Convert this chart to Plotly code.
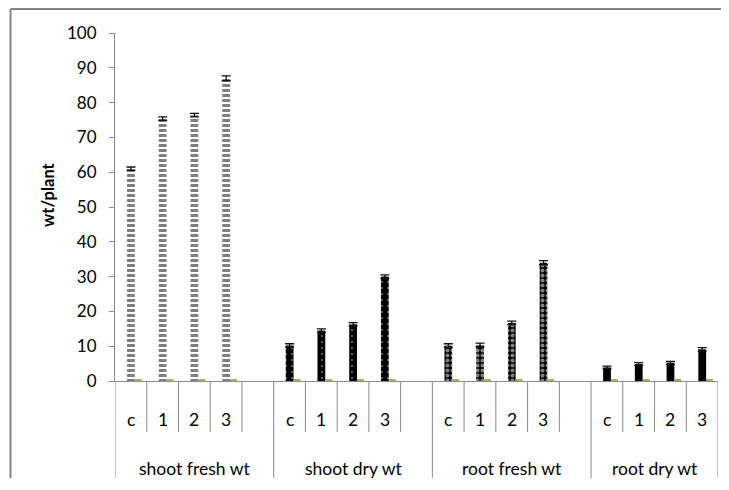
import plotly.graph_objects as go

# ---------------- data ----------------
groups = ["shoot fresh wt", "shoot dry wt", "root fresh wt", "root dry wt"]
levels = ["c", "1", "2", "3"]
# each group except the last has an empty trailing slot in the original sheet
has_blank = [True, True, True, False]

shoot_fresh = [61.0, 75.4, 76.4, 87.0]
shoot_dry = [10.2, 14.5, 16.3, 30.0]
root_fresh = [10.2, 10.4, 16.7, 34.0]
root_dry = [3.9, 4.9, 5.2, 9.1]
main_by_group = [shoot_fresh, shoot_dry, root_fresh, root_dry]

shoot_fresh_err = [0.5, 0.5, 0.5, 0.7]
shoot_dry_err = [0.5, 0.5, 0.5, 0.5]
root_fresh_err = [0.5, 0.5, 0.5, 0.6]
root_dry_err = [0.4, 0.4, 0.4, 0.5]
err_by_group = [shoot_fresh_err, shoot_dry_err, root_fresh_err, root_dry_err]

series3_by_group = [[0.3, 0.3, 0.3, 0.3], [0.3, 0.3, 0.3, 0.3],
                    [0.3, 0.3, 0.3, 0.3], [0.3, 0.3, 0.3, 0.3]]

# ---------------- styles ----------------
group_style = {
    "shoot fresh wt": dict(color="#ffffff", shape="-", fg="#000000", size=5, solidity=0.6),
    "shoot dry wt": dict(color="#000000", shape=".", fg="#ffffff", size=6, solidity=0.08),
    "root fresh wt": dict(color="#000000", shape=".", fg="#ffffff", size=5, solidity=0.5),
    "root dry wt": dict(color="#000000", shape="", fg="#000000", size=6, solidity=0.3),
}

# ---------------- category list ----------------
cats, sub_text, group_ranges, group_cats = [], [], [], []
for gi, g in enumerate(groups):
    start = len(cats)
    gc = []
    for lv in levels:
        cats.append(f"{g}|{lv}")
        gc.append(f"{g}|{lv}")
        sub_text.append(lv)
    if has_blank[gi]:
        cats.append(f"{g}|")
        sub_text.append("")
    group_ranges.append((start, len(cats) - 1))
    group_cats.append(gc)
n = len(cats)

fig = go.Figure()
for gi, g in enumerate(groups):
    st = group_style[g]
    marker = dict(color=st["color"], line=dict(width=0))
    if st["shape"]:
        marker["pattern"] = dict(shape=st["shape"], fgcolor=st["fg"], size=st["size"],
                                 solidity=st["solidity"], fillmode="overlay")
    fig.add_trace(go.Bar(
        x=group_cats[gi], y=main_by_group[gi], offset=-0.12, width=0.245,
        marker=marker,
        error_y=dict(type="data", array=err_by_group[gi], visible=True, color="#111111",
                     thickness=1.3, width=4.5),
        showlegend=False))
    fig.add_trace(go.Bar(
        x=group_cats[gi], y=series3_by_group[gi], offset=0.125, width=0.22,
        marker=dict(color="#9BBB59", line=dict(width=0)),
        showlegend=False, hoverinfo="skip"))

# ---------------- geometry (page has an 8px body margin) ----------------
M = 8
W, H = 713, 470
L, T = 107, 25
R = 3
B = 97
pw, ph = W - L - R, H - T - B


def py(screen_y):
    return (H - B - (screen_y - M)) / ph


def px(screen_x):
    return ((screen_x - M) - L) / pw


grey = "#8a8a8a"
shapes = []
group_edges = set()
for (a, b) in group_ranges:
    group_edges.add(a)
    group_edges.add(b + 1)
for i in range(n + 1):
    long_line = i in group_edges
    shapes.append(dict(type="line", xref="x", yref="paper",
                       x0=i - 0.5, x1=i - 0.5, y0=0,
                       y1=py(482) if long_line else py(432),
                       line=dict(color=grey, width=1)))
# outer chart border (only the left and top edges are inside the picture)
border = dict(color="#868686", width=2)
shapes.append(dict(type="line", xref="paper", yref="paper",
                   x0=px(10.5), x1=px(10.5), y0=py(9), y1=py(495), line=border))
shapes.append(dict(type="line", xref="paper", yref="paper",
                   x0=px(10.5), x1=px(900), y0=py(9), y1=py(9), line=border))

annotations = []
font = dict(family="Lato, Carlito, sans-serif", size=17.5, color="#000000")
for i, t in enumerate(sub_text):
    if t:
        annotations.append(dict(x=i, y=py(419), xref="x", yref="paper", text=t,
                                showarrow=False, font=font, xanchor="center", yanchor="middle"))
for gi, (a, b) in enumerate(group_ranges):
    annotations.append(dict(x=(a + b) / 2, y=py(468), xref="x", yref="paper", text=groups[gi],
                            showarrow=False, font=font, xanchor="center", yanchor="middle"))
annotations.append(dict(x=px(48), y=py(195), xref="paper", yref="paper", text="<b>wt/plant</b>",
                        textangle=-90, showarrow=False, xanchor="center", yanchor="middle",
                        font=dict(family="Lato, Carlito, sans-serif", size=16.5, color="#000000")))

fig.update_layout(
    width=W, height=H,
    margin=dict(l=L, r=R, t=T, b=B, pad=0),
    paper_bgcolor="white", plot_bgcolor="white",
    barmode="overlay",
    shapes=shapes, annotations=annotations,
    xaxis=dict(type="category", categoryorder="array", categoryarray=cats,
               range=[-0.5, n - 0.5], showticklabels=False, ticks="",
               showline=True, linecolor=grey, linewidth=1, showgrid=False, zeroline=False),
    yaxis=dict(range=[0, 100], dtick=10, ticks="outside", ticklen=5, tickcolor=grey,
               showline=True, linecolor=grey, linewidth=1, showgrid=False, zeroline=False,
               tickfont=dict(family="Lato, Carlito, sans-serif", size=17, color="#000000"),
               ticklabelstandoff=9),
)

fig.write_html("out.html")
